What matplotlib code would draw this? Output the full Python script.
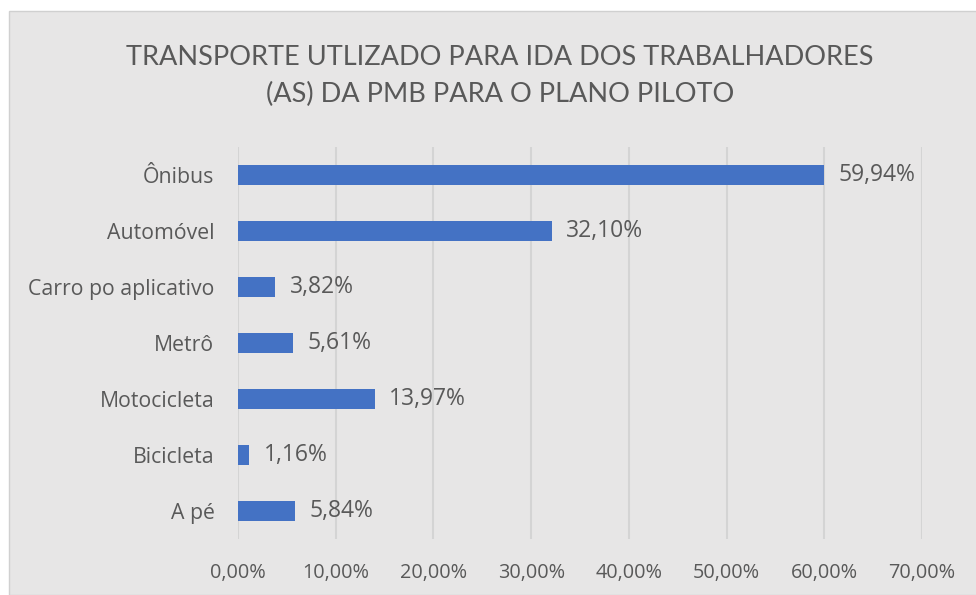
import matplotlib.pyplot as plt
from matplotlib.patches import Rectangle

categories = ["Ônibus", "Automóvel", "Carro po aplicativo", "Metrô", "Motocicleta", "Bicicleta", "A pé"]
values = [59.94, 32.10, 3.82, 5.61, 13.97, 1.16, 5.84]
xticks = [0, 10, 20, 30, 40, 50, 60, 70]

FONT = "Lato"
LBL = "Open Sans"
TXT = "#595959"
BG = "#E7E6E6"

fig = plt.figure(figsize=(9.76, 5.95), dpi=100, facecolor="white")
fig.patches.append(Rectangle((9 / 976, 0), 1, 1 - 11 / 595, transform=fig.transFigure,
                             facecolor=BG, edgecolor="#D0D0D0", linewidth=1, zorder=-5))

ax = fig.add_axes([238 / 976, 1 - 539 / 595, 684 / 976, 392 / 595])
ax.set_facecolor("none")

ypos = list(range(len(categories)))
ax.barh(ypos, values, height=0.36, color="#4472C4", zorder=3)
ax.set_ylim(len(categories) - 0.5, -0.5)
ax.set_xlim(0, 70)

for y, v in zip(ypos, values):
    ax.text(v + 1.5, y, f"{v:.2f}%".replace(".", ","), va="center", ha="left",
            fontsize=16.5, color=TXT, family=LBL)

ax.set_yticks(ypos)
ax.set_yticklabels(categories, fontsize=15.3, color=TXT, family=LBL)
ax.set_xticks(xticks)
ax.set_xticklabels([f"{t:.2f}%".replace(".", ",") for t in xticks], fontsize=14.3, color=TXT, family=LBL)
ax.tick_params(length=0)
ax.tick_params(axis="y", pad=17)
ax.tick_params(axis="x", pad=17)
ax.grid(axis="x", color="#D4D4D4", linewidth=1.5, zorder=0)
for s in ax.spines.values():
    s.set_visible(False)

fig.text(500 / 976, 1 - 76 / 595, "TRANSPORTE UTLIZADO PARA IDA DOS TRABALHADORES\n(AS) DA PMB PARA O PLANO PILOTO",
         ha="center", va="center", fontsize=19.5, color=TXT, family=FONT, linespacing=1.55)

fig.savefig("out.png", dpi=100, facecolor="white")
